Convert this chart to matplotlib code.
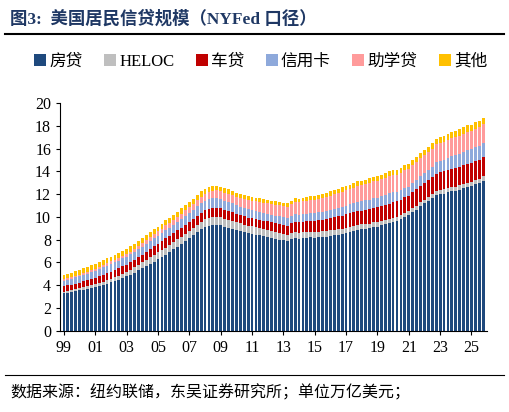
import matplotlib
matplotlib.use("Agg")
import matplotlib.pyplot as plt
import numpy as np

years = list(range(1999, 2026))
mortgage = [3.30,3.36,3.42,3.48, 3.55,3.62,3.70,3.78, 3.86,3.95,4.04,4.14, 4.25,4.36,4.48,4.62,
 4.78,4.94,5.12,5.30, 5.48,5.68,5.88,6.08, 6.28,6.48,6.70,6.92, 7.15,7.40,7.65,7.90,
 8.15,8.40,8.65,8.90, 9.10,9.23,9.30,9.29, 9.25,9.15,9.05,8.95, 8.85,8.75,8.65,8.55,
 8.50,8.45,8.40,8.30, 8.25,8.15,8.05,8.00, 7.95,7.85,8.05,8.15, 8.10,8.15,8.15,8.20,
 8.17,8.20,8.25,8.25, 8.35,8.40,8.45,8.50, 8.60,8.70,8.75,8.85, 8.90,8.95,9.00,9.10,
 9.15,9.25,9.35,9.45, 9.55,9.65,9.80,10.00, 10.15,10.45,10.65,10.95, 11.20,11.40,11.65,11.90,
 12.00,12.05,12.15,12.25, 12.30,12.40,12.50,12.60, 12.70,12.85,12.95,13.15]
heloc = [0.15,0.16,0.17,0.18, 0.19,0.20,0.21,0.22, 0.24,0.26,0.28,0.30, 0.32,0.34,0.36,0.38,
 0.40,0.43,0.46,0.49, 0.52,0.55,0.57,0.59, 0.60,0.61,0.61,0.62, 0.62,0.62,0.61,0.61,
 0.61,0.62,0.63,0.66, 0.68,0.69,0.70,0.71, 0.71,0.71,0.70,0.70, 0.69,0.68,0.68,0.67,
 0.66,0.65,0.64,0.63, 0.62,0.61,0.60,0.59, 0.57,0.56,0.54,0.53, 0.53,0.52,0.52,0.51,
 0.51,0.50,0.49,0.49, 0.49,0.48,0.47,0.46, 0.46,0.45,0.45,0.44, 0.44,0.43,0.42,0.41,
 0.40,0.40,0.39,0.39, 0.39,0.37,0.36,0.35, 0.35,0.33,0.32,0.32, 0.32,0.32,0.32,0.34,
 0.35,0.36,0.36,0.36, 0.37,0.38,0.38,0.39, 0.40,0.40,0.41,0.42]
auto = [0.45,0.46,0.47,0.49, 0.50,0.52,0.53,0.55, 0.56,0.58,0.60,0.62, 0.63,0.64,0.65,0.66,
 0.64,0.64,0.65,0.67, 0.68,0.70,0.72,0.74, 0.75,0.77,0.80,0.79, 0.78,0.80,0.81,0.82,
 0.80,0.81,0.81,0.82, 0.81,0.81,0.80,0.79, 0.78,0.75,0.74,0.74, 0.71,0.71,0.71,0.71,
 0.71,0.72,0.73,0.75, 0.75,0.77,0.78,0.78, 0.79,0.81,0.84,0.86, 0.88,0.91,0.93,0.95,
 0.96,1.00,1.02,1.06, 1.07,1.10,1.12,1.14, 1.16,1.17,1.21,1.22, 1.22,1.24,1.26,1.27,
 1.28,1.29,1.31,1.33, 1.35,1.34,1.36,1.37, 1.37,1.40,1.44,1.46, 1.47,1.50,1.52,1.55,
 1.56,1.58,1.60,1.61, 1.62,1.63,1.64,1.66, 1.64,1.65,1.66,1.67]
card = [0.50,0.51,0.52,0.54, 0.55,0.57,0.59,0.61, 0.62,0.64,0.65,0.67, 0.67,0.68,0.68,0.69,
 0.69,0.70,0.70,0.71, 0.70,0.70,0.71,0.72, 0.71,0.72,0.73,0.74, 0.74,0.75,0.76,0.78,
 0.79,0.81,0.83,0.85, 0.85,0.86,0.87,0.87, 0.84,0.83,0.81,0.80, 0.76,0.75,0.74,0.73,
 0.70,0.69,0.69,0.70, 0.68,0.67,0.67,0.68, 0.66,0.67,0.67,0.68, 0.66,0.67,0.68,0.70,
 0.68,0.70,0.71,0.73, 0.71,0.73,0.75,0.78, 0.76,0.78,0.81,0.83, 0.81,0.83,0.84,0.87,
 0.85,0.87,0.88,0.93, 0.89,0.82,0.81,0.82, 0.77,0.79,0.80,0.86, 0.84,0.89,0.93,0.99,
 0.99,1.03,1.08,1.13, 1.12,1.14,1.17,1.21, 1.18,1.21,1.23,1.25]
student = [0.12,0.13,0.14,0.14, 0.15,0.16,0.17,0.18, 0.19,0.20,0.21,0.22, 0.22,0.23,0.24,0.24,
 0.24,0.25,0.27,0.28, 0.30,0.32,0.34,0.36, 0.38,0.39,0.41,0.41, 0.42,0.44,0.46,0.48,
 0.51,0.52,0.53,0.55, 0.61,0.62,0.64,0.66, 0.68,0.69,0.72,0.74, 0.76,0.78,0.80,0.81,
 0.84,0.85,0.87,0.87, 0.90,0.91,0.96,0.97, 0.99,0.99,1.03,1.08, 1.11,1.12,1.13,1.16,
 1.19,1.19,1.20,1.23, 1.26,1.26,1.28,1.31, 1.34,1.34,1.36,1.38, 1.41,1.41,1.44,1.46,
 1.49,1.48,1.50,1.51, 1.54,1.54,1.55,1.56, 1.58,1.57,1.58,1.58, 1.59,1.59,1.57,1.60,
 1.60,1.57,1.60,1.60, 1.60,1.59,1.61,1.62, 1.63,1.64,1.65,1.66]
other = [0.38,0.39,0.40,0.40, 0.40,0.41,0.41,0.42, 0.42,0.42,0.43,0.43, 0.43,0.43,0.44,0.44,
 0.44,0.45,0.45,0.45, 0.44,0.44,0.45,0.44, 0.43,0.44,0.45,0.45, 0.44,0.44,0.45,0.45,
 0.44,0.45,0.45,0.46, 0.44,0.43,0.43,0.42, 0.41,0.40,0.39,0.38, 0.37,0.36,0.35,0.35,
 0.34,0.33,0.33,0.33, 0.32,0.32,0.31,0.31, 0.30,0.30,0.31,0.32, 0.32,0.33,0.34,0.35,
 0.35,0.36,0.37,0.38, 0.38,0.39,0.39,0.40, 0.39,0.40,0.41,0.42, 0.41,0.42,0.42,0.43,
 0.42,0.42,0.43,0.43, 0.42,0.40,0.41,0.42, 0.41,0.42,0.44,0.45, 0.46,0.47,0.48,0.50,
 0.51,0.52,0.53,0.54, 0.54,0.54,0.55,0.55, 0.55,0.56,0.56,0.57]

series = [("房贷", mortgage, "#1F497D"), ("HELOC", heloc, "#BFBFBF"), ("车贷", auto, "#C00000"),
          ("信用卡", card, "#8EA9DB"), ("助学贷", student, "#FF9B9B"), ("其他", other, "#FFC000")]
xlabels = [f"{y % 100:02d}" for y in years[::2]]

FAM = ['Liberation Serif', 'Noto Sans CJK SC']
plt.rcParams['font.family'] = FAM

fig = plt.figure(figsize=(5.09, 4.12), dpi=100)
ax = fig.add_axes([0.118, 0.197, 0.839, 0.553])
x = np.arange(len(mortgage))
bottom = np.zeros(len(x))
for name, vals, col in series:
    v = np.array(vals)
    ax.bar(x, v, bottom=bottom, width=0.72, color=col, label=name, linewidth=0)
    bottom += v

ax.set_xlim(-1, len(x))
ax.set_ylim(0, 20)
ax.set_yticks(range(0, 21, 2))
ax.set_xticks(np.arange(0, len(x), 8))
ax.set_xticklabels(xlabels)
ax.tick_params(labelsize=11.5, length=3, direction='out')
for s in ['top', 'right']:
    ax.spines[s].set_visible(False)

ax.legend(loc='lower center', bbox_to_anchor=(0.47, 1.08), ncol=6, frameon=False,
          fontsize=12, handlelength=0.7, handleheight=0.7, handletextpad=0.2, columnspacing=1.3)

fig.text(0.02, 0.955, "图3:  美国居民信贷规模（NYFed 口径）", color="#1F3864", fontsize=12.5,
         fontweight='bold', va='center', family=FAM)
fig.add_artist(plt.Line2D([0.01, 0.99], [0.918, 0.918], color='black', lw=1.5))
fig.add_artist(plt.Line2D([0.01, 0.99], [0.09, 0.09], color='black', lw=0.8))
fig.text(0.02, 0.045, "数据来源：纽约联储，东吴证券研究所；单位万亿美元；", fontsize=11.5, va='center', family=FAM)
fig.savefig("out.png", dpi=100)
